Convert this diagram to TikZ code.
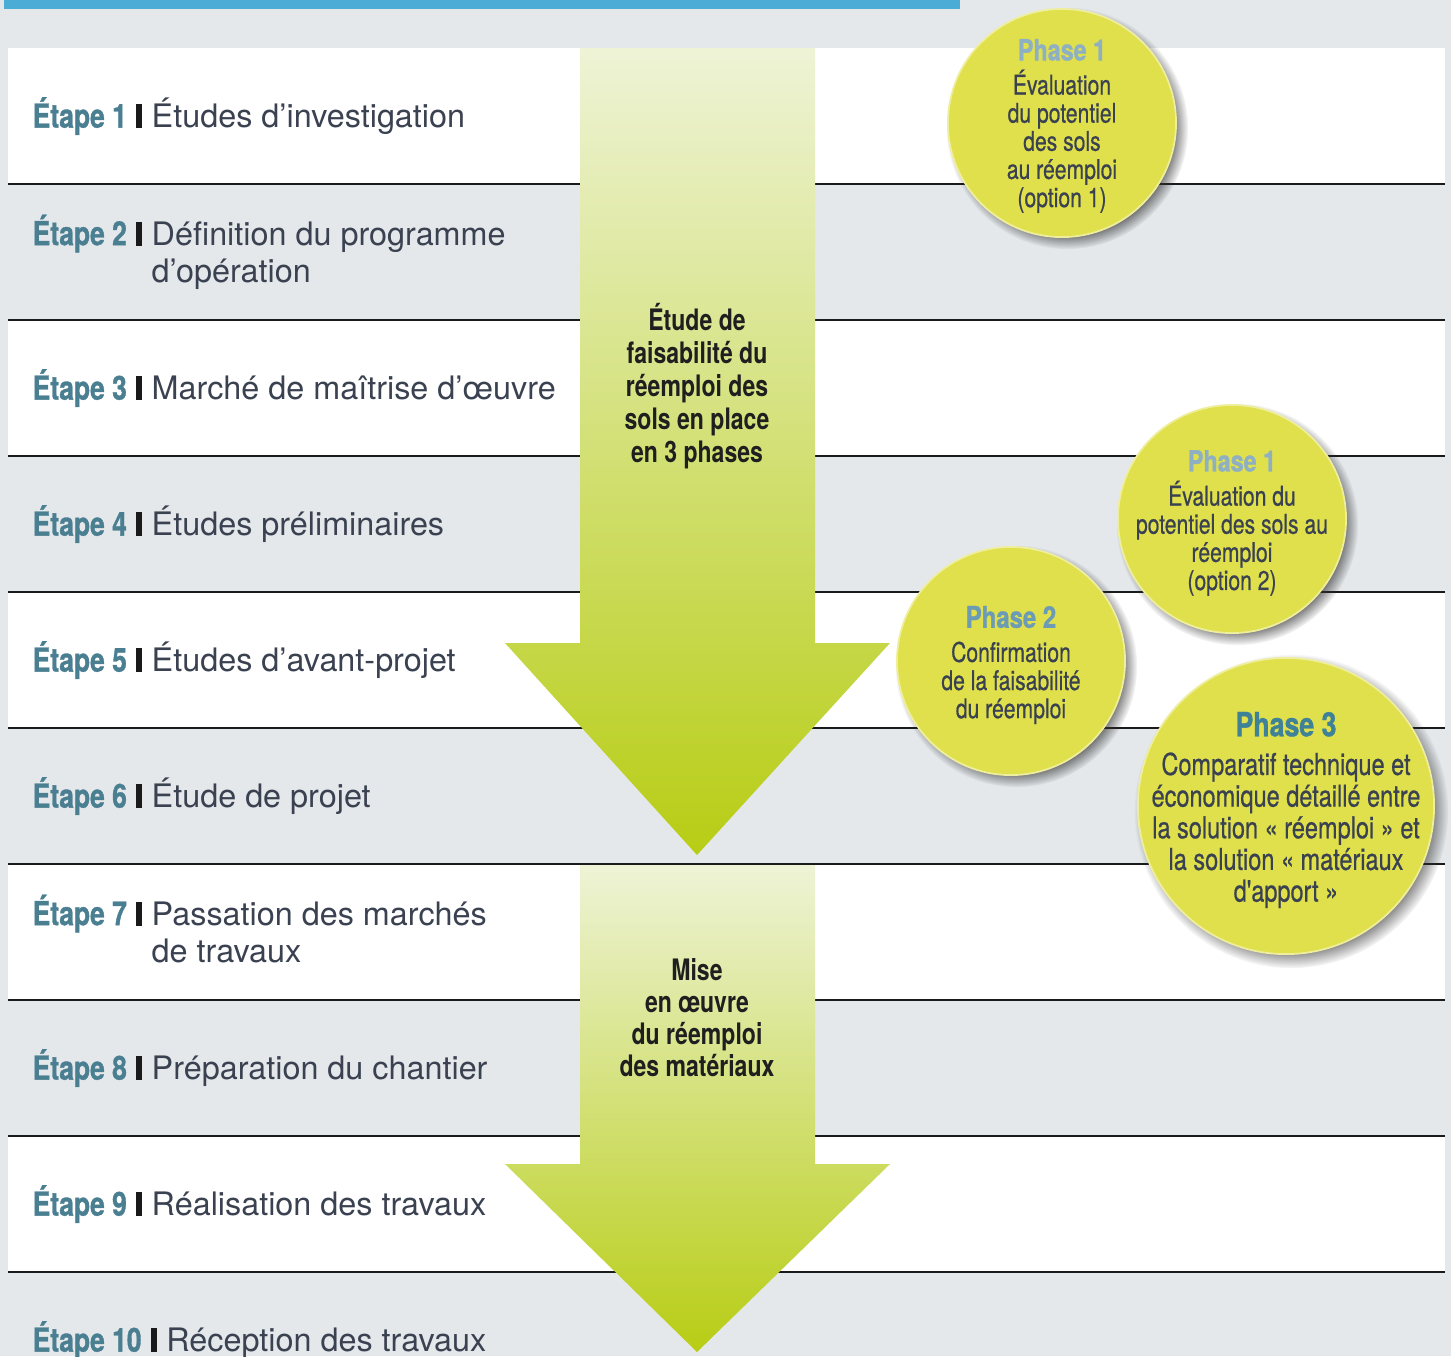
\documentclass[tikz,border=0pt]{standalone}
\usepackage{fontspec}
\setmainfont{TeX Gyre Heros}
\newfontfamily\condfont[FakeStretch=0.78]{TeX Gyre Heros}
\newfontfamily\medfont[FakeStretch=0.78, FakeBold=0.6]{TeX Gyre Heros}
\newfontfamily\heavyfont[FakeStretch=0.8, FakeBold=1]{TeX Gyre Heros}
\usetikzlibrary{positioning,calc,shadows,fadings}

\definecolor{bggray}{RGB}{228,232,235}
\definecolor{topblue}{RGB}{75,173,213}
\definecolor{etapeteal}{RGB}{74,127,146}
\definecolor{desctext}{RGB}{58,65,80}
\definecolor{rulegray}{RGB}{26,26,26}
\definecolor{phaseyellow}{RGB}{224,224,76}
\definecolor{phaseonecol}{RGB}{142,176,194}
\definecolor{phasetwocol}{RGB}{108,156,181}
\definecolor{phasethreecol}{RGB}{63,130,152}
\definecolor{arrowtop}{RGB}{238,243,214}
\definecolor{arrowbot}{RGB}{183,205,20}

\newcommand\phasehead[3]{{\color{#1}\heavyfont\bfseries\fontsize{#2}{#2}\selectfont #3}}

\tikzset{
    etape/.style={anchor=west, inner sep=0pt, text=etapeteal,
        font=\heavyfont\bfseries\fontsize{9.4}{10.5}\selectfont},
    sepbar/.style={inner sep=0pt, fill=rulegray, minimum width=0.06cm, minimum height=0.24cm},
    desc/.style={anchor=west, inner sep=0pt, align=left, text=desctext,
        font=\fontsize{9.2}{10.5}\selectfont,
        execute at begin node=\vphantom{Ép}, execute at end node=\vphantom{Ép}},
    arrowtext/.style={inner sep=0pt, align=center, text=black!88},
    phase/.style={circle, fill=phaseyellow, inner sep=0pt,
        draw=phaseyellow!55!white, line width=0.5pt,
        circular drop shadow={shadow scale=1.06, shadow xshift=1.4pt, shadow yshift=-1.4pt,
            opacity=0.8, fill=black!80}},
    phasetext/.style={inner sep=0pt, align=center, text=desctext},
    bigarrow/.style={top color=arrowtop, bottom color=arrowbot}
}

\begin{document}
\begin{tikzpicture}[x=0.01cm, y=-0.01cm]
    \useasboundingbox (0,0) rectangle (1451,1356);
    \clip (0,0) rectangle (1451,1356);

    % Background and top bar
    \fill[bggray] (0,0) rectangle (1451,1356);
    \fill[topblue] (4,0) rectangle (960,9);

    % White bands
    \foreach \n in {1,3,5,7,9}
        \fill[white] (8,{48+136*(\n-1)}) rectangle (1445,{48+136*\n});

    % Separating lines
    \foreach \n in {1,...,9}
        \draw[rulegray, line width=0.6pt] (8,{48+136*\n}) -- (1445,{48+136*\n});

    % Steps
    \foreach \n/\dsc/\off/\doff in {
        1/{Études d’investigation}/0/0,
        2/{Définition du programme\\d’opération}/-18.5/4,
        3/{Marché de maîtrise d’œuvre}/0/0,
        4/{Études préliminaires}/0/0,
        5/{Études d’avant-projet}/0/0,
        6/{Étude de projet}/0/0,
        7/{Passation des marchés\\de travaux}/-18.5/4,
        8/{Préparation du chantier}/0/0,
        9/{Réalisation des travaux}/0/0,
        10/{Réception des travaux}/0/0}{
        \pgfmathsetmacro\mid{116+136*(\n-1)}
        \coordinate (m\n) at (0,\mid+\doff);
        \node[etape] (lab\n) at (32,\mid+\off) {Étape \n};
        \node[sepbar, right=0.08cm of lab\n] (bar\n) {};
        \path (bar\n.east) ++(0.08cm,0) coordinate (dx\n);
        \node[desc] (dsc\n) at (dx\n |- m\n) {\dsc};
    }

    % Arrows
    \shade[bigarrow] (580,48) -- (815,48) -- (815,643) -- (890,643) -- (697,855)
        -- (505,643) -- (580,643) -- cycle;
    \shade[bigarrow] (580,865) -- (815,865) -- (815,1164) -- (890,1164) -- (697,1352)
        -- (505,1164) -- (580,1164) -- cycle;

    \node[arrowtext, font=\condfont\bfseries\fontsize{8.4}{9.35}\selectfont] (faisab) at (697,386)
        {Étude de\\faisabilité du\\réemploi des\\sols en place\\en 3 phases};
    \node[arrowtext, font=\condfont\bfseries\fontsize{8.4}{9.1}\selectfont] (miseoeuvre) at (697,1018)
        {Mise\\en œuvre\\du réemploi\\des matériaux};

    % Phases
    \node[phase, minimum size=2.28cm] (ph1a) at (1062,123) {};
    \node[phase, minimum size=2.28cm] (ph1b) at (1232,519) {};
    \node[phase, minimum size=2.28cm] (ph2) at (1011,661) {};
    \node[phase, minimum size=2.96cm] (ph3) at (1286,806) {};

    \node[phasetext, font=\medfont\fontsize{7.7}{8}\selectfont] (ph1atxt) at ($(ph1a)+(0,3)$)
        {\phasehead{phaseonecol}{8.3}{Phase 1}\\[1.7pt]Évaluation\\du potentiel\\des sols\\au réemploi\\(option 1)};
    \node[phasetext, font=\medfont\fontsize{7.7}{8}\selectfont] (ph1btxt) at ($(ph1b)+(0,4)$)
        {\phasehead{phaseonecol}{8.3}{Phase 1}\\[1.7pt]Évaluation du\\potentiel des sols au\\réemploi\\(option 2)};
    \node[phasetext, font=\medfont\fontsize{7.7}{8}\selectfont] (ph2txt) at ($(ph2)+(0,4)$)
        {\phasehead{phasetwocol}{8.5}{Phase 2}\\[1.7pt]Confirmation\\de la faisabilité\\du réemploi};
    \node[phasetext, font=\medfont\fontsize{8.57}{9}\selectfont] (ph3txt) at ($(ph3)+(0,4)$)
        {\phasehead{phasethreecol}{9.5}{Phase 3}\\[2pt]Comparatif technique et\\économique détaillé entre\\la solution « réemploi » et\\la solution « matériaux\\d'apport »};
\end{tikzpicture}
\end{document}
